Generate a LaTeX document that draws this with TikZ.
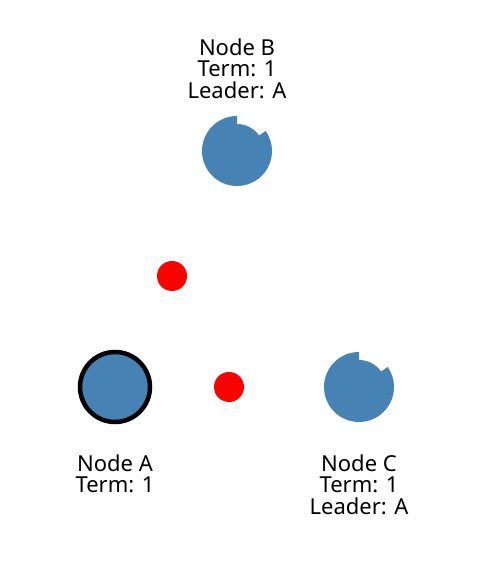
\documentclass[tikz,border=0pt]{standalone}
\usepackage{fontspec}
\setmainfont{Noto Sans}
\usepackage{xcolor}
\usepackage{tikz}
\usetikzlibrary{calc}
\usetikzlibrary{positioning}
\definecolor{steel}{HTML}{4682B4}

\begin{document}
\begin{tikzpicture}[x=1bp, y=1bp,
    server/.style={circle, fill=steel, minimum size=70bp, inner sep=0pt},
    leader/.style={server, draw=black, line width=4.5bp},
    msg/.style={circle, fill=red, minimum size=30bp, inner sep=0pt},
    info/.style={align=center, inner sep=0pt, anchor=north,
      font=\fontsize{22bp}{21.7bp}\selectfont}]
      \useasboundingbox (0, 0) rectangle (502, 570);

      % leader
      \node[leader] (nodeA) at (115, 183) {};

      % followers, timer notch cut out of the rim
      \coordinate (nodeB) at (237, 419);
      \fill[steel] ($(nodeB)+(90:35bp)$) arc[start angle=90, end angle=395, radius=35bp]
        -- ($(nodeB)+(35:27bp)$) arc[start angle=35, end angle=90, radius=27bp] -- cycle;

      \coordinate (nodeC) at (359, 183);
      \fill[steel] ($(nodeC)+(90:35bp)$) arc[start angle=90, end angle=395, radius=35bp]
        -- ($(nodeC)+(35:27bp)$) arc[start angle=35, end angle=90, radius=27bp] -- cycle;

      % messages in flight
      \node[msg] (msgAB) at (172, 294) {};
      \node[msg] (msgAC) at (229, 183) {};

      \node[info] (infoB) at (237, 531.7) {Node B\\Term: 1\\Leader: A};
      \node[info] (infoA) at (115, 115.8) {Node A\\Term: 1};
      \node[info] (infoC) at (359, 115.8) {Node C\\Term: 1\\Leader: A};

    \end{tikzpicture}
\end{document}
